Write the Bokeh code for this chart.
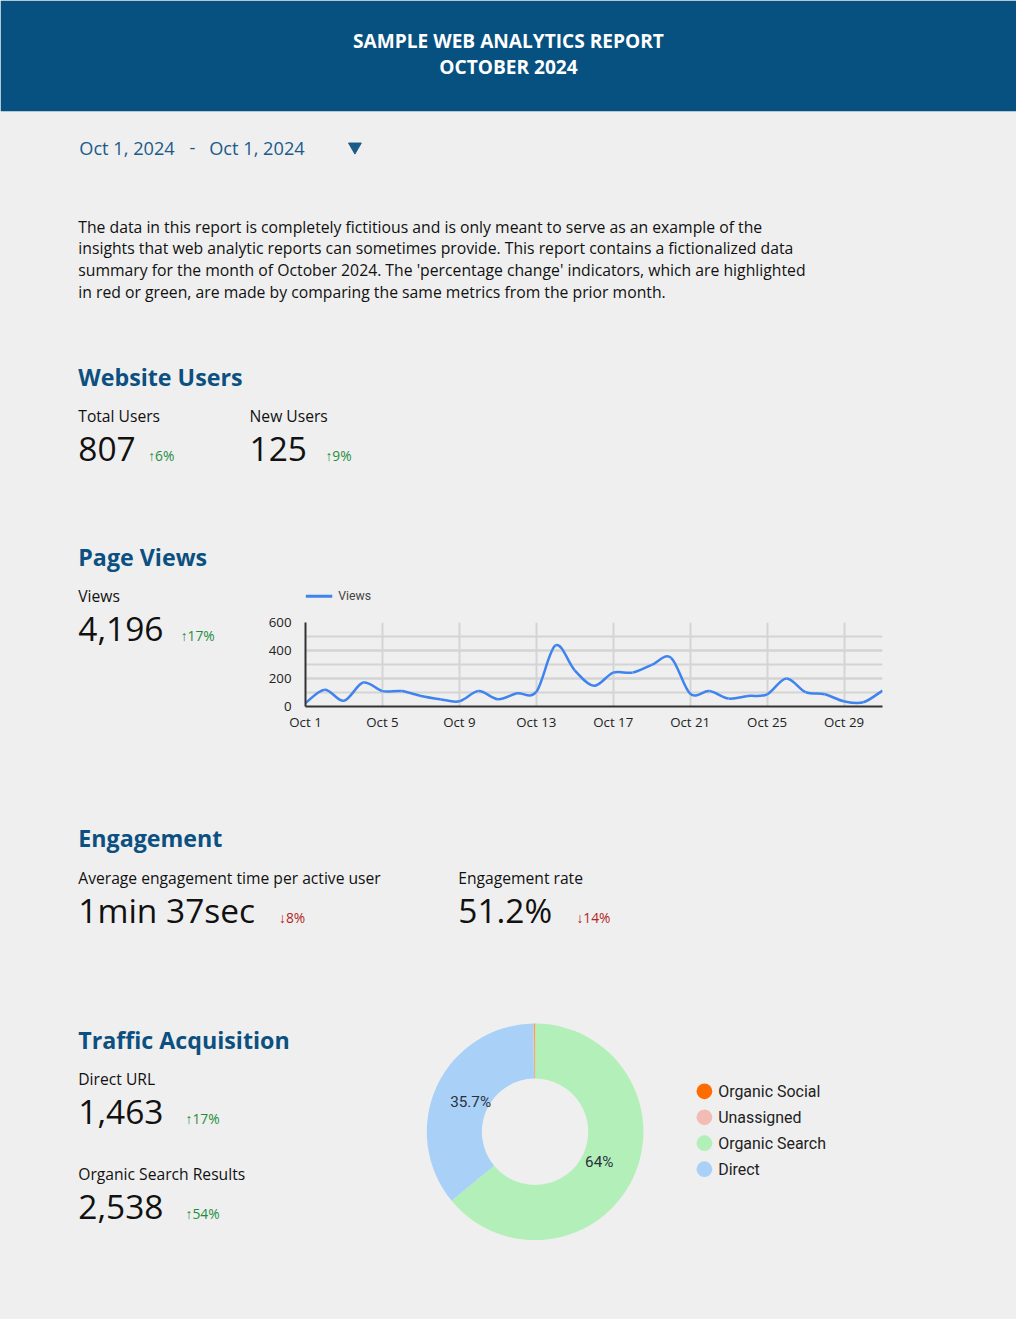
import math
from bokeh.plotting import figure
from bokeh.models import (Range1d, FixedTicker, SingleIntervalTicker, ColumnDataSource)
from bokeh.layouts import column, row
from bokeh.core.properties import value
from bokeh.embed import file_html
from bokeh.resources import INLINE

# ---------------- data ----------------
days = list(range(1, 32))
views = [25, 120, 41, 171, 110, 110, 75, 52, 37, 110, 52, 94, 105, 436, 258, 148,
         242, 242, 297, 349, 91, 110, 57, 75, 87, 200, 103, 87, 37, 30, 114]
tick_days = [1, 5, 9, 13, 17, 21, 25, 29]
tick_labels = ["Oct 1", "Oct 5", "Oct 9", "Oct 13", "Oct 17", "Oct 21", "Oct 25", "Oct 29"]

channels = ["Organic Social", "Unassigned", "Organic Search", "Direct"]
shares = [0.1, 0.2, 64.0, 35.7]
channel_colors = ["#ff6d01", "#f2bcb4", "#b3efb9", "#a9d1f7"]
pie_order = ["Organic Search", "Direct", "Unassigned", "Organic Social"]  # clockwise from top
share_labels = {"Organic Search": "64%", "Direct": "35.7%"}

kpi_users = [("Total Users", "807", "\u21916%"), ("New Users", "125", "\u21919%")]
kpi_views = ("Views", "4,196", "\u219117%")
kpi_eng = [("Average engagement time per active user", "1min 37sec", "\u21938%"),
           ("Engagement rate", "51.2%", "\u219314%")]
kpi_traffic = [("Direct URL", "1,463", "\u219117%"), ("Organic Search Results", "2,538", "\u219154%")]

paragraph = [
    "The data in this report is completely fictitious and is only meant to serve as an example of the",
    "insights that web analytic reports can sometimes provide.  This report contains a fictionalized data",
    "summary for the month of October 2024. The 'percentage change' indicators, which are highlighted",
    "in red or green, are made by comparing the same metrics from the prior month.",
]

# ---------------- styles ----------------
BG = "#efefef"
HEADER = "#06517f"
HEAD_TXT = "#0b5080"
DATE_C = "#1b5b8a"
TXT = "#111111"
GREEN = "#1e8e3e"
RED = "#b3261e"
LINE_C = "#3f84ee"
GRID_C = "#d4d4d4"
FONT = "Open Sans"

W, H = 1016, 1319
SX, SY = W / 1032, H / 1335


def px(X):
    return round(X * SX)


def py(Y):
    return round(Y * SY)


def fs(n):
    return f"{n * SX:.2f}px"


def tfig(X0, X1, Y0, Y1):
    x0, x1, y0, y1 = px(X0), px(X1), py(Y0), py(Y1)
    p = figure(width=x1 - x0, height=y1 - y0, x_range=Range1d(x0 / SX, x1 / SX),
               y_range=Range1d(y1 / SY, y0 / SY),
               output_backend="svg", toolbar_location=None, min_border=0,
               x_axis_location=None, y_axis_location=None,
               background_fill_color=BG, border_fill_color=BG, outline_line_color=None)
    p.xgrid.visible = False
    p.ygrid.visible = False
    return p


def txt(p, x, y, s, size, color=TXT, font=FONT, style="normal", align="left"):
    p.text(x=[x], y=[y], text=[s], text_font=value(font), text_font_size=fs(size),
           text_color=color, text_font_style=style, text_align=align, text_baseline="middle")


def kpi(p, x, y, label, number, change, cx):
    txt(p, x, y, label, 15.9)
    txt(p, x, y + 33, number, 34)
    txt(p, cx, y + 40, change, 14, color=GREEN if change.startswith("\u2191") else RED)


# ---------------- top block ----------------
t1 = tfig(0, 1032, 0, 590)
t1.quad(left=[0], right=[1032], top=[0], bottom=[112], color=HEADER, line_color=None)
txt(t1, 516, 41, "SAMPLE WEB ANALYTICS REPORT", 19.4, color="white", style="bold", align="center")
txt(t1, 516, 67, "OCTOBER 2024", 19.4, color="white", style="bold", align="center")
txt(t1, 80, 149, "Oct 1, 2024", 18.5, color=DATE_C)
txt(t1, 192, 149, "-", 18.5, color=DATE_C)
txt(t1, 212, 149, "Oct 1, 2024", 18.5, color=DATE_C)
t1.scatter(x=[360], y=[148], marker="inverted_triangle", size=13 * SX, color=DATE_C)
for i, line in enumerate(paragraph):
    txt(t1, 79, 229 + 22 * i, line, 16)
txt(t1, 79, 381, "Website Users", 23.6, color=HEAD_TXT, style="bold")
kpi(t1, 79, 421, *kpi_users[0], cx=150)
kpi(t1, 253, 421, *kpi_users[1], cx=330)
txt(t1, 79, 563, "Page Views", 23.6, color=HEAD_TXT, style="bold")

# ---------------- page views row ----------------
l2 = tfig(0, 260, 590, 760)
kpi(l2, 79, 603, *kpi_views, cx=183)
r2 = tfig(910, 1032, 590, 760)

CW = px(910) - px(260)
BL = px(310) - px(260)
BR = px(910) - px(896)

# legend strip above the chart (same side borders as the chart so frames line up)
lgy0, lgy1 = py(590), py(613)
lg = figure(width=CW, height=lgy1 - lgy0,
            x_range=Range1d((px(260) + BL) / SX, (px(260) + CW - BR) / SX),
            y_range=Range1d(lgy1 / SY, lgy0 / SY),
            output_backend="svg", toolbar_location=None,
            min_border_left=BL, min_border_right=BR, min_border_top=0, min_border_bottom=0,
            x_axis_location=None, y_axis_location=None,
            background_fill_color=BG, border_fill_color=BG, outline_line_color=None)
lg.xgrid.visible = False
lg.ygrid.visible = False
lg.segment(x0=[310], y0=[603], x1=[337], y1=[603], line_color=LINE_C, line_width=3)
txt(lg, 343, 603, "Views", 12.5, color="#444444", font="Roboto")

c = figure(width=CW, height=py(760) - lgy1,
           x_range=Range1d(1, 31), y_range=Range1d(0, 600),
           output_backend="svg", toolbar_location=None,
           min_border_left=BL, min_border_right=BR,
           min_border_top=py(630) - lgy1, min_border_bottom=py(760) - py(715),
           background_fill_color=BG, border_fill_color=BG, outline_line_color=None)

# smooth curve through the read points (Catmull-Rom -> cubic Bezier)
n = len(days)
bx0, by0, bx1, by1, c0x, c0y, c1x, c1y = [], [], [], [], [], [], [], []
for i in range(n - 1):
    p0 = (days[max(i - 1, 0)], views[max(i - 1, 0)])
    p1 = (days[i], views[i])
    p2 = (days[i + 1], views[i + 1])
    p3 = (days[min(i + 2, n - 1)], views[min(i + 2, n - 1)])
    bx0.append(p1[0]); by0.append(p1[1]); bx1.append(p2[0]); by1.append(p2[1])
    c0x.append(p1[0] + (p2[0] - p0[0]) / 6); c0y.append(p1[1] + (p2[1] - p0[1]) / 6)
    c1x.append(p2[0] - (p3[0] - p1[0]) / 6); c1y.append(p2[1] - (p3[1] - p1[1]) / 6)
bsrc = ColumnDataSource(data=dict(x0=bx0, y0=by0, x1=bx1, y1=by1, cx0=c0x, cy0=c0y, cx1=c1x, cy1=c1y))
c.bezier(x0="x0", y0="y0", x1="x1", y1="y1", cx0="cx0", cy0="cy0", cx1="cx1", cy1="cy1",
         source=bsrc, line_color=LINE_C, line_width=2.5)

c.xaxis.ticker = FixedTicker(ticks=tick_days)
c.xaxis.major_label_overrides = {d: l for d, l in zip(tick_days, tick_labels)}
c.yaxis.ticker = SingleIntervalTicker(interval=200, num_minor_ticks=2)
for ax in (c.xaxis, c.yaxis):
    ax.axis_line_color = "#333333"
    ax.axis_line_width = 2
    ax.major_tick_line_color = None
    ax.minor_tick_line_color = None
    ax.major_tick_out = 0
    ax.major_tick_in = 0
    ax.minor_tick_out = 0
    ax.minor_tick_in = 0
    ax.major_label_text_font = FONT
    ax.major_label_text_font_size = fs(13.5)
    ax.major_label_text_color = "#222222"
c.xaxis.major_label_standoff = 6
c.yaxis.major_label_standoff = 14
c.xgrid.grid_line_color = GRID_C
c.xgrid.grid_line_width = 2
c.ygrid.grid_line_color = GRID_C
c.ygrid.grid_line_width = 2
c.ygrid.minor_grid_line_color = GRID_C
c.ygrid.minor_grid_line_width = 2

# ---------------- engagement block ----------------
t3 = tfig(0, 1032, 760, 1030)
txt(t3, 79, 848, "Engagement", 23.6, color=HEAD_TXT, style="bold")
kpi(t3, 79, 888, *kpi_eng[0], cx=283)
kpi(t3, 465, 888, *kpi_eng[1], cx=585)

# ---------------- traffic row ----------------
l4 = tfig(0, 420, 1030, 1335)
txt(l4, 79, 1052, "Traffic Acquisition", 23.6, color=HEAD_TXT, style="bold")
kpi(l4, 79, 1092, *kpi_traffic[0], cx=188)
kpi(l4, 79, 1188, *kpi_traffic[1], cx=188)

dx0, dx1, dy0, dy1 = px(420), px(1032), py(1030), py(1335)
d = figure(width=dx1 - dx0, height=dy1 - dy0,
           x_range=Range1d(dx0 / SX - 543, dx1 / SX - 543),
           y_range=Range1d(1145 - dy1 / SY, 1145 - dy0 / SY),
           output_backend="svg", toolbar_location=None, min_border=0,
           x_axis_location=None, y_axis_location=None,
           background_fill_color=BG, border_fill_color=BG, outline_line_color=None)
d.xgrid.visible = False
d.ygrid.visible = False
share_of = dict(zip(channels, shares))
color_of = dict(zip(channels, channel_colors))
total = sum(shares)
cum = 0.0
starts, ends, cols, lx, ly, lt = [], [], [], [], [], []
for ch in pie_order:
    a0 = math.pi / 2 - cum / total * 2 * math.pi
    cum += share_of[ch]
    a1 = math.pi / 2 - cum / total * 2 * math.pi
    starts.append(a0); ends.append(a1); cols.append(color_of[ch])
    if ch in share_labels:
        mid = (a0 + a1) / 2
        lx.append(72 * math.cos(mid)); ly.append(72 * math.sin(mid)); lt.append(share_labels[ch])
d.annular_wedge(x=0, y=0, inner_radius=54, outer_radius=110, start_angle=starts, end_angle=ends,
                direction="clock", fill_color=cols, line_color=None)
d.text(x=lx, y=ly, text=lt, text_font=value("Roboto"), text_font_size=fs(15.5),
       text_color="#2a2f3a", text_align="center", text_baseline="middle")
for i, ch in enumerate(channels):
    yy = 41 - 26.3 * i
    d.scatter(x=[172], y=[yy], marker="circle", size=16 * SX, color=color_of[ch], line_color=None)
    d.text(x=[186], y=[yy], text=[ch], text_font=value("Roboto"), text_font_size=fs(16.2),
           text_color="#222222", text_align="left", text_baseline="middle")

ST = {"background-color": BG}
layout = column(t1,
                row(l2, column(lg, c, styles=ST), r2, styles=ST),
                t3,
                row(l4, d, styles=ST),
                styles=ST)
open("out.html", "w").write(file_html(layout, INLINE))
